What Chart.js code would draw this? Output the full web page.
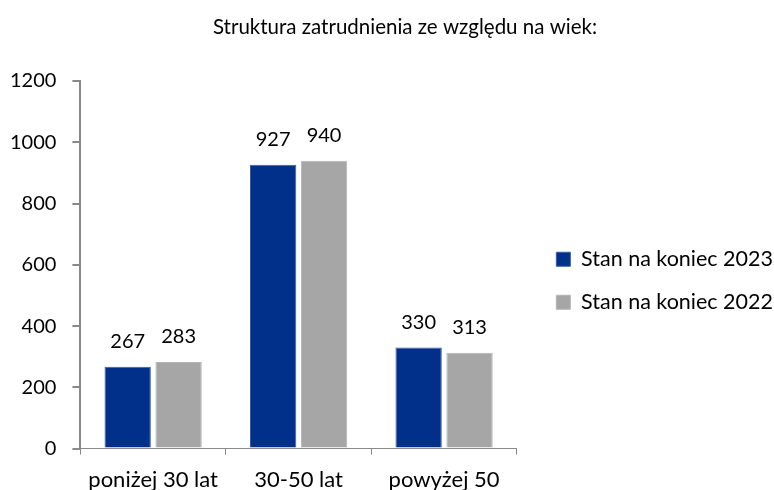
<!DOCTYPE html>
<html>
<head>
<meta charset="utf-8">
<script src="https://cdn.jsdelivr.net/npm/chart.js@4"></script>
<style>
  html, body { margin: 0; padding: 0; background: #fff; }
  #wrap { width: 774px; height: 490px; }
</style>
</head>
<body>
<div id="wrap"><canvas id="chart" width="774" height="490"></canvas></div>
<script>
// Data
const categories = ['poniżej 30 lat', '30-50 lat', 'powyżej 50'];
const seriesNames = ['Stan na koniec 2023', 'Stan na koniec 2022'];
const values2023 = [267, 927, 330];
const values2022 = [283, 940, 313];
const yTicks = [0, 200, 400, 600, 800, 1000, 1200];
const titleText = 'Struktura zatrudnienia ze względu na wiek:';

const FONT = 'Lato, "Open Sans", sans-serif';
const FS = 20;

// value labels over the bars
const barLabels = {
    id: 'barLabels',
    afterDatasetsDraw(chart) {
        const ctx = chart.ctx;
        ctx.save();
        ctx.font = FS + 'px ' + FONT;
        ctx.fillStyle = '#000';
        ctx.textAlign = 'center';
        ctx.textBaseline = 'middle';
        chart.data.datasets.forEach((ds, i) => {
            chart.getDatasetMeta(i).data.forEach((bar, j) => {
                ctx.fillText(ds.data[j], bar.x, bar.y - 25);
            });
        });
        ctx.restore();
    }
};

// title drawn a bit right of canvas centre, like the original
const chartTitle = {
    id: 'chartTitle',
    afterDraw(chart) {
        const ctx = chart.ctx;
        ctx.save();
        ctx.font = '20.5px ' + FONT;
        ctx.fillStyle = '#000';
        ctx.textAlign = 'center';
        ctx.textBaseline = 'middle';
        ctx.fillText(titleText, chart.width / 2 + 18, 27);
        ctx.restore();
    }
};

const ctx = document.getElementById('chart').getContext('2d');
const chart = new Chart(ctx, {
    type: 'bar',
    data: {
        labels: categories,
        datasets: [{
            label: seriesNames[0],
            data: values2023,
            backgroundColor: '#00308A',
            borderColor: '#3a5aa8',
            borderWidth: 1,
            categoryPercentage: 0.7,
            barPercentage: 0.91
        }, {
            label: seriesNames[1],
            data: values2022,
            backgroundColor: '#A6A6A6',
            borderColor: '#b4b4b4',
            borderWidth: 1,
            categoryPercentage: 0.7,
            barPercentage: 0.91
        }]
    },
    options: {
        responsive: false,
        animation: false,
        layout: {
            padding: { top: 81, right: -9, bottom: -15, left: -6 }
        },
        scales: {
            x: {
                grid: {
                    drawOnChartArea: false,
                    drawTicks: true,
                    tickLength: 6,
                    color: '#898989',
                    offset: true
                },
                border: { color: '#898989', width: 1 },
                ticks: {
                    color: '#000',
                    font: { family: FONT, size: 22 },
                    padding: 12
                }
            },
            y: {
                min: 0,
                max: 1200,
                afterBuildTicks: (axis) => {
                    axis.ticks = yTicks.map(v => ({ value: v }));
                },
                grid: {
                    drawOnChartArea: false,
                    drawTicks: true,
                    tickLength: 8,
                    color: '#898989',
                    lineWidth: 2
                },
                border: { color: '#898989', width: 2 },
                ticks: {
                    color: '#000',
                    font: { family: FONT, size: FS },
                    padding: 16,
                    callback: (v) => String(v)
                }
            },
            // empty axis: keeps a gap between plot and legend
            gap: {
                type: 'linear',
                position: 'right',
                display: true,
                grid: { display: false },
                border: { display: false },
                ticks: { display: false },
                afterFit: (axis) => { axis.width = 18; }
            }
        },
        plugins: {
            legend: {
                position: 'right',
                align: 'start',
                maxWidth: 300,
                title: {
                    display: true,
                    text: ' ',
                    font: { size: 10 },
                    padding: 67
                },
                labels: {
                    boxWidth: 14,
                    boxHeight: 14,
                    padding: 21.5,
                    color: '#000',
                    font: { family: FONT, size: 21.5 }
                }
            },
            title: { display: false },
            tooltip: { enabled: false }
        }
    },
    plugins: [barLabels, chartTitle]
});
</script>
</body>
</html>
